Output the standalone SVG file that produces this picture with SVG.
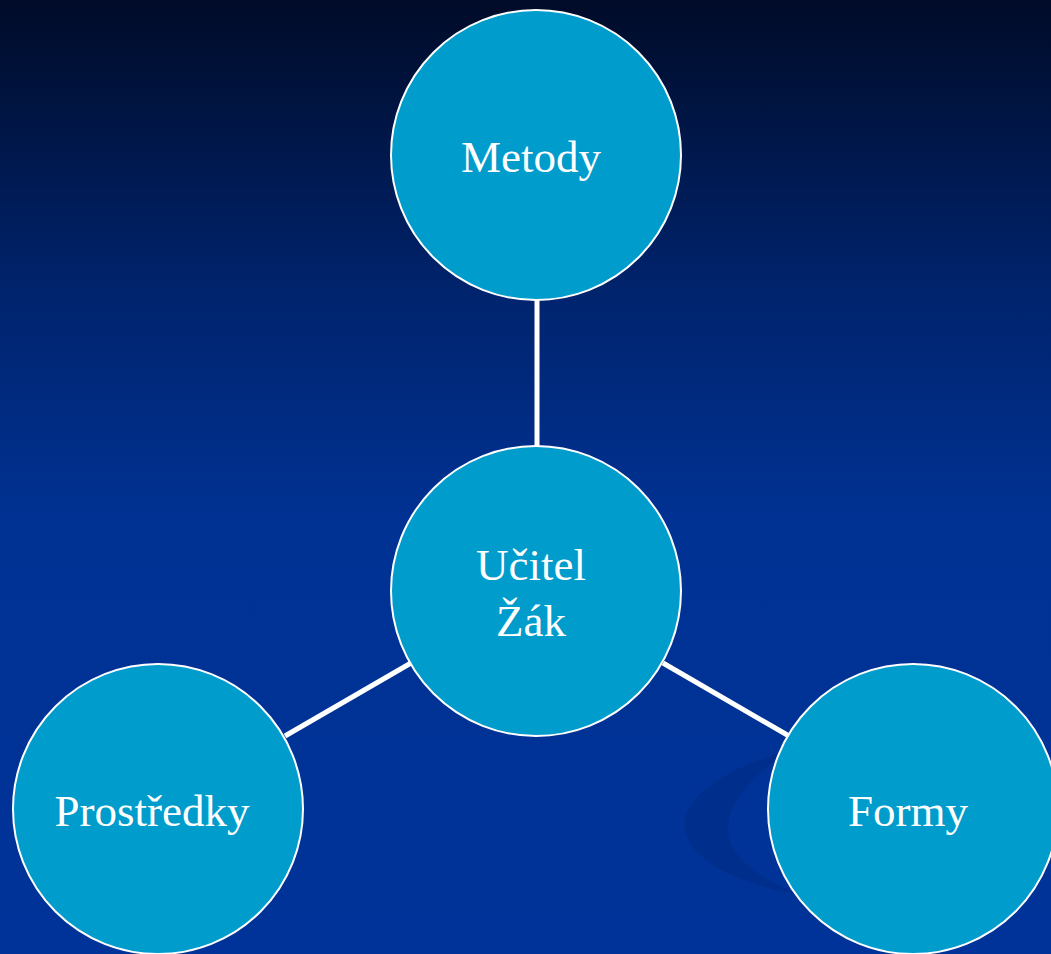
<svg xmlns="http://www.w3.org/2000/svg" width="1051" height="954" viewBox="0 0 1051 954">
<defs>
<linearGradient id="bg" x1="0" y1="0" x2="0" y2="1">
<stop offset="0" stop-color="#000b28"/>
<stop offset="0.3" stop-color="#00236c"/>
<stop offset="0.55" stop-color="#003294"/>
<stop offset="1" stop-color="#003399"/>
</linearGradient>
</defs>
<style>
.node circle{fill:#009ccc;stroke:#ffffff;stroke-width:2}
.node text{fill:#ffffff;font-family:"Liberation Serif",serif;font-size:45px;text-anchor:middle}
.conn line{stroke:#ffffff;stroke-width:5}
</style>
<rect width="1051" height="954" fill="url(#bg)"/>
<path d="M790,750 C720,770 680,800 685,830 C690,860 740,885 800,895 C750,875 725,850 728,825 C732,795 760,770 790,750 Z" fill="#002b85" opacity="0.6"/>
<g class="conn">
<line x1="537" y1="300" x2="537" y2="447"/>
<line x1="285" y1="736" x2="411" y2="663"/>
<line x1="663" y1="663" x2="789" y2="736"/>
</g>
<g class="node" id="metody">
<circle cx="536" cy="155" r="145"/>
<text x="531" y="172">Metody</text>
</g>
<g class="node" id="ucitel-zak">
<circle cx="536" cy="591" r="145"/>
<text x="531" y="580">Učitel</text>
<text x="531" y="636">Žák</text>
</g>
<g class="node" id="prostredky">
<circle cx="158" cy="809" r="145"/>
<text x="152" y="826">Prostředky</text>
</g>
<g class="node" id="formy">
<circle cx="913" cy="809" r="145"/>
<text x="908" y="826">Formy</text>
</g>
</svg>
